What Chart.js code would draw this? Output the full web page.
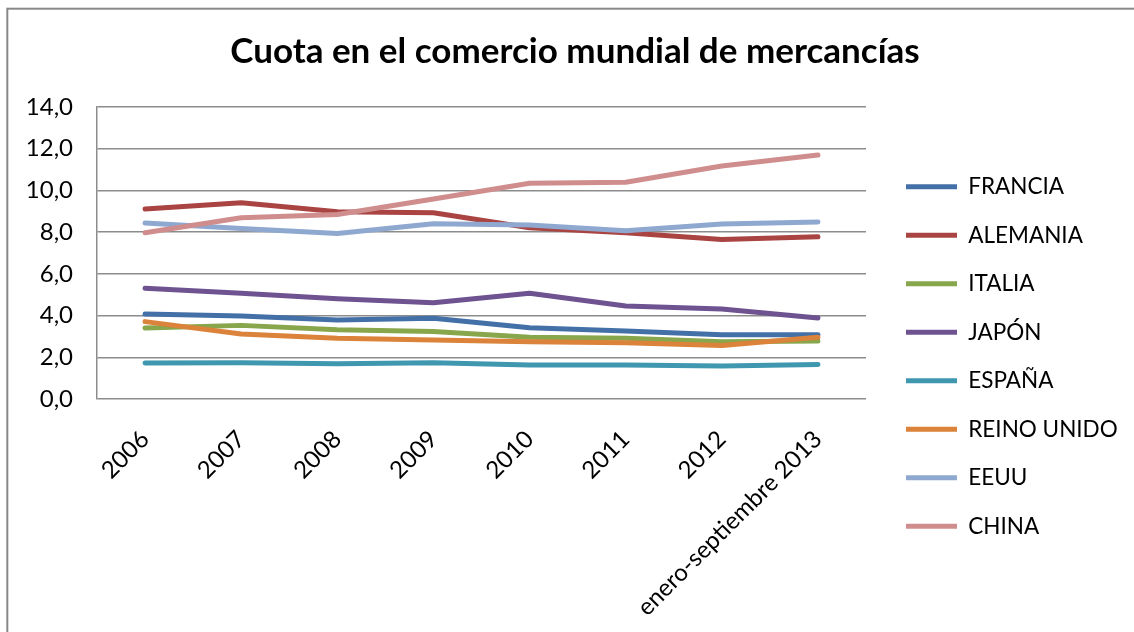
<!DOCTYPE html>
<html>
<head>
<meta charset="utf-8">
<title>Cuota en el comercio mundial de mercancías</title>
<script src="https://cdn.jsdelivr.net/npm/chart.js"></script>
<style>
    body { margin: 0; background: #fff; overflow: hidden; }
</style>
</head>
<body>
<canvas id="cuotaChart" width="1134" height="632"></canvas>

<script>
    // periods on the x axis
    var periodos = ['2006', '2007', '2008', '2009', '2010', '2011', '2012', 'enero-septiembre 2013'];

    // share of world merchandise trade (%)
    var francia    = [4.07, 3.98, 3.79, 3.87, 3.42, 3.26, 3.08, 3.08];
    var alemania   = [9.11, 9.41, 8.98, 8.93, 8.21, 7.97, 7.65, 7.78];
    var italia     = [3.40, 3.53, 3.32, 3.24, 2.96, 2.91, 2.75, 2.78];
    var japon      = [5.31, 5.07, 4.81, 4.62, 5.07, 4.46, 4.31, 3.88];
    var espana     = [1.73, 1.74, 1.69, 1.74, 1.63, 1.63, 1.58, 1.66];
    var reinoUnido = [3.71, 3.12, 2.91, 2.83, 2.75, 2.70, 2.56, 2.96];
    var eeuu       = [8.44, 8.18, 7.94, 8.40, 8.34, 8.07, 8.39, 8.49];
    var china      = [7.97, 8.69, 8.85, 9.59, 10.34, 10.39, 11.17, 11.70];

    var paises = ['FRANCIA', 'ALEMANIA', 'ITALIA', 'JAPÓN', 'ESPAÑA', 'REINO UNIDO', 'EEUU', 'CHINA'];
    var series = [francia, alemania, italia, japon, espana, reinoUnido, eeuu, china];
    var colores = ['#4470a8', '#aa4442', '#88a64c', '#6e5390', '#3f97b0', '#db833a', '#8fa8d0', '#cf8e8d'];

    // y axis ticks
    var yMin = 0, yMax = 14, yStep = 2;

    Chart.defaults.font.family = "Lato, 'Open Sans', sans-serif";
    Chart.defaults.color = '#000';

    var datasets = series.map(function(values, i) {
        return {
            label: paises[i],
            data: values,
            borderColor: colores[i],
            backgroundColor: colores[i],
            borderWidth: 5,
            borderCapStyle: 'round',
            borderJoinStyle: 'round',
            pointRadius: 0,
            tension: 0,
            order: series.length - i   // later series drawn on top, like Excel
        };
    });

    // frame around the chart object
    var framePlugin = {
        id: 'frame',
        beforeDraw: function(chart) {
            var ctx = chart.ctx;
            ctx.save();
            ctx.strokeStyle = '#888';
            ctx.lineWidth = 2;
            ctx.strokeRect(7.3, 8.7, 1300, 800);
            ctx.restore();
        }
    };

    // fix legend box width and nudge legend / title into place
    var placePlugin = {
        id: 'place',
        afterInit: function(chart) {
            var lg = chart.legend;
            var fit = lg.fit;
            lg.fit = function() {
                fit.call(lg);
                lg.width = 268;
            };
        },
        afterLayout: function(chart) {
            var lg = chart.legend;
            lg.left += 14; lg.right += 14;
            lg.top += 40.5; lg.bottom += 40.5;
            var t = chart.titleBlock;
            t.left += 8; t.right += 8;
        }
    };

    var ctx = document.getElementById('cuotaChart').getContext('2d');
    var myChart = new Chart(ctx, {
        type: 'line',
        data: {
            labels: periodos,
            datasets: datasets
        },
        plugins: [framePlugin, placePlugin],
        options: {
            responsive: false,
            animation: false,
            layout: { padding: { left: 0, right: 0, top: 0, bottom: 0 } },
            plugins: {
                title: {
                    display: true,
                    text: 'Cuota en el comercio mundial de mercancías',
                    font: { size: 35, weight: 'bold' },
                    color: '#000',
                    padding: { top: 31, bottom: 34 }
                },
                legend: {
                    position: 'right',
                    labels: {
                        usePointStyle: true,
                        pointStyle: 'line',
                        pointStyleWidth: 51,
                        boxHeight: 22,
                        padding: 26,
                        font: { size: 22.5 },
                        sort: function(a, b) { return a.datasetIndex - b.datasetIndex; }
                    }
                },
                tooltip: { enabled: false }
            },
            scales: {
                x: {
                    offset: true,
                    grid: { display: false },
                    border: { display: false },
                    ticks: {
                        autoSkip: false,
                        maxRotation: 45,
                        minRotation: 45,
                        padding: 18,
                        font: { size: 24 }
                    },
                    afterFit: function(scale) { scale.height = 233; }
                },
                y: {
                    min: yMin,
                    max: yMax,
                    grid: { color: '#8c8c8c', lineWidth: 1.5, drawTicks: false },
                    border: { display: true, color: '#8c8c8c', width: 1.5 },
                    ticks: {
                        stepSize: yStep,
                        padding: 24,
                        font: { size: 24 },
                        callback: function(v) { return v.toFixed(1).replace('.', ','); }
                    },
                    afterFit: function(scale) { scale.width = 97; }
                }
            }
        }
    });
</script>
</body>
</html>
